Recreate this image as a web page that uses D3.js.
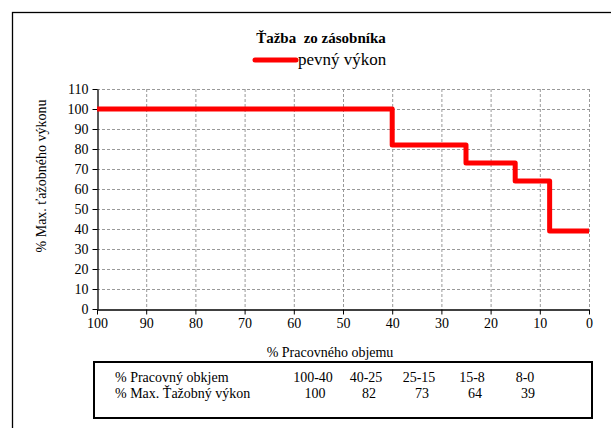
<!DOCTYPE html>
<html><head><meta charset="utf-8">
<script src="https://cdn.jsdelivr.net/npm/d3@7"></script>
</head><body style="margin:0">
<script>
const title = "Ťažba\u00a0 zo zásobníka";
const seriesName = "pevný výkon";
const xLabel = "% Pracovného objemu";
const yLabel = "% Max. ťažobného výkonu";
const stepStart = [100, 40, 25, 15, 8];
const stepEnd = [40, 25, 15, 8, 0];
const stepValue = [100, 82, 73, 64, 39];
const tableRow1Label = "% Pracovný obkjem";
const tableRow2Label = "% Max. Ťažobný výkon";
const tableRanges = ["100-40", "40-25", "25-15", "15-8", "8-0"];
const xTicks = d3.range(0, 101, 10);
const yTicks = d3.range(0, 111, 10);

const FONT = "Liberation Serif";
const W = 611, H = 428;
const svg = d3.select("body").append("svg").attr("width", W).attr("height", H).style("display", "block");
svg.append("rect").attr("width", W).attr("height", H).attr("fill", "#fff");
svg.append("rect").attr("x", 12.5).attr("y", 12.5).attr("width", W + 20).attr("height", H + 20)
  .attr("fill", "none").attr("stroke", "#000").attr("stroke-width", 1.3);

const m = {l: 97, r: 589, t: 89, b: 309};
const x = d3.scaleLinear().domain([100, 0]).range([m.l, m.r]);
const y = d3.scaleLinear().domain([0, 110]).range([m.b, m.t]);

const g = svg.append("g");
g.selectAll(".hg").data(yTicks.filter(d => d > 0)).join("line")
  .attr("x1", m.l).attr("x2", m.r).attr("y1", d => y(d) + .5).attr("y2", d => y(d) + .5)
  .attr("stroke", "#999").attr("stroke-dasharray", "3,2").attr("stroke-width", 1);
g.selectAll(".vg").data(xTicks.filter(d => d < 100)).join("line")
  .attr("y1", m.t).attr("y2", m.b).attr("x1", d => x(d) + .5).attr("x2", d => x(d) + .5)
  .attr("stroke", "#999").attr("stroke-dasharray", "3,2").attr("stroke-width", 1);

const yAxis = svg.append("g").attr("transform", `translate(${m.l + .5},0)`)
  .call(d3.axisLeft(y).tickValues(yTicks).tickSize(5).tickSizeOuter(0));
const xAxis = svg.append("g").attr("transform", `translate(0,${m.b + .5})`)
  .call(d3.axisBottom(x).tickValues(xTicks).tickSize(5).tickSizeOuter(0));
[yAxis, xAxis].forEach(a => {
  a.attr("font-family", FONT).attr("font-size", 14);
  a.select(".domain").attr("stroke", "#000").attr("stroke-width", 1.3);
  a.selectAll(".tick line").attr("stroke", "#000");
  a.selectAll("text").attr("font-family", FONT).attr("font-size", 14).attr("fill", "#000");
});
yAxis.selectAll("text").attr("x", -9);
xAxis.selectAll("text").attr("y", 9);

const pts = [];
stepValue.forEach((v, i) => { pts.push([stepStart[i], v]); pts.push([stepEnd[i], v]); });
svg.append("path").datum(pts)
  .attr("d", d3.line().x(d => x(d[0])).y(d => y(d[1])))
  .attr("fill", "none").attr("stroke", "#ff0000").attr("stroke-width", 5).attr("stroke-linejoin", "round");

function txt(xp, yp, s, size, anchor) {
  return svg.append("text").attr("x", xp).attr("y", yp).attr("text-anchor", anchor || "start")
    .attr("font-family", FONT).attr("font-size", size).text(s);
}
txt(321, 43, title, 15, "middle").attr("font-weight", "bold");
svg.append("line").attr("x1", 255).attr("x2", 296).attr("y1", 60).attr("y2", 60)
  .attr("stroke", "#ff0000").attr("stroke-width", 5).attr("stroke-linecap", "round");
txt(298, 65, seriesName, 17);

txt(330, 357, xLabel, 14, "middle");
txt(0, 0, yLabel, 14, "middle").attr("transform", "translate(46,176) rotate(-90)");

svg.append("rect").attr("x", 94).attr("y", 362).attr("width", 498).attr("height", 56)
  .attr("fill", "none").attr("stroke", "#000").attr("stroke-width", 2);
txt(115, 382, tableRow1Label, 14);
txt(115, 398, tableRow2Label, 14);
const colX = d3.scalePoint().domain(tableRanges).range([313, 525]);
tableRanges.forEach(r => txt(colX(r), 382, r, 14, "middle"));
stepValue.forEach((v, i) => txt(colX(tableRanges[i]) + (i === 0 ? 2 : 3), 398, String(v), 14, "middle"));
</script>
</body></html>
